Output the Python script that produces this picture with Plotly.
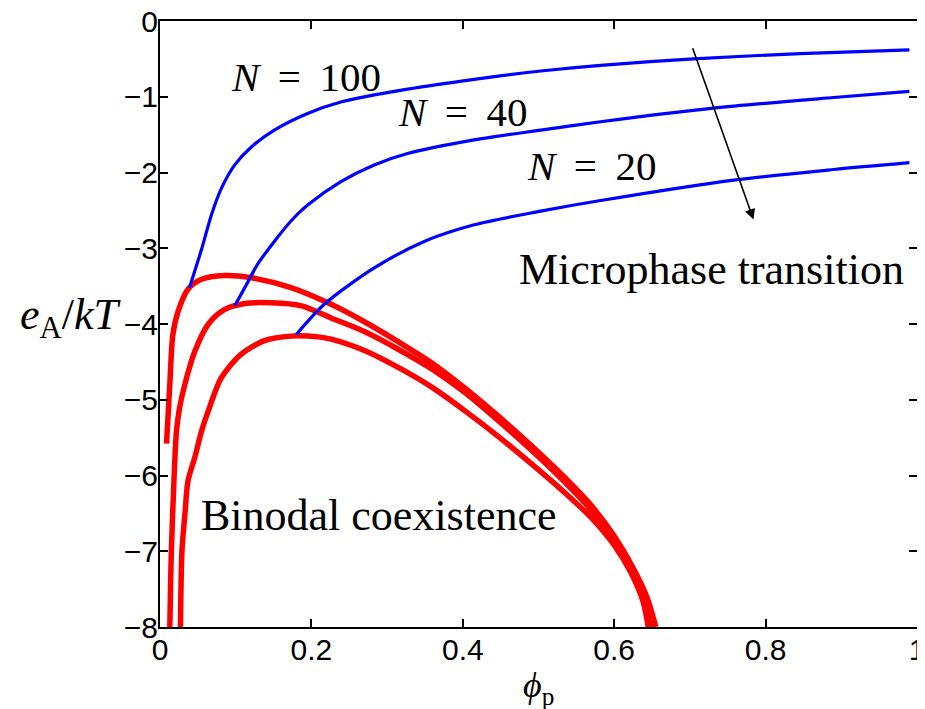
import plotly.graph_objects as go

# Microphase transition lines (blue)
blue100_x = [0.0389, 0.0547, 0.0679, 0.0811, 0.0987, 0.121, 0.151, 0.195, 0.239, 0.327, 0.415, 0.503, 0.582, 0.705, 0.846, 0.99]
blue100_y = [-3.52, -3.02, -2.56, -2.21, -1.90, -1.66, -1.44, -1.22, -1.07, -0.90, -0.77, -0.66, -0.585, -0.50, -0.43, -0.38]

blue40_x = [0.0987, 0.112, 0.129, 0.151, 0.173, 0.195, 0.239, 0.283, 0.327, 0.415, 0.503, 0.582, 0.731, 0.89, 0.99]
blue40_y = [-3.76, -3.52, -3.21, -2.91, -2.64, -2.43, -2.12, -1.90, -1.75, -1.57, -1.44, -1.33, -1.15, -1.01, -0.93]

blue20_x = [0.18, 0.217, 0.283, 0.349, 0.415, 0.503, 0.582, 0.758, 0.89, 0.99]
blue20_y = [-4.14, -3.74, -3.26, -2.91, -2.69, -2.51, -2.37, -2.10, -1.96, -1.87]

# Binodal coexistence lines (red)
red100_x = [0.0086, 0.011, 0.013, 0.017, 0.024, 0.037, 0.055, 0.085, 0.121, 0.173, 0.226, 0.27, 0.314, 0.36, 0.402, 0.445, 0.49, 0.534, 0.57, 0.6, 0.625, 0.643, 0.655]
red100_y = [-5.58, -5.15, -4.79, -4.14, -3.83, -3.54, -3.41, -3.36, -3.39, -3.52, -3.74, -3.97, -4.23, -4.52, -4.84, -5.2, -5.6, -6.02, -6.4, -6.8, -7.22, -7.6, -8.0]

red40_x = [0.013, 0.015, 0.0187, 0.0218, 0.026, 0.033, 0.046, 0.064, 0.085, 0.112, 0.147, 0.187, 0.226, 0.27, 0.314, 0.36, 0.402, 0.445, 0.49, 0.534, 0.57, 0.6, 0.625, 0.64, 0.65]
red40_y = [-8.0, -7.0, -6.0, -5.41, -5.1, -4.79, -4.36, -4.0, -3.81, -3.73, -3.72, -3.76, -3.92, -4.1, -4.33, -4.6, -4.9, -5.26, -5.66, -6.08, -6.46, -6.86, -7.28, -7.62, -8.0]

red20_x = [0.027, 0.029, 0.033, 0.037, 0.046, 0.055, 0.064, 0.081, 0.107, 0.138, 0.173, 0.209, 0.226, 0.27, 0.314, 0.36, 0.402, 0.445, 0.49, 0.534, 0.57, 0.6, 0.622, 0.638, 0.645]
red20_y = [-8.0, -7.0, -6.5, -6.07, -5.76, -5.41, -5.14, -4.71, -4.4, -4.22, -4.16, -4.17, -4.2, -4.35, -4.57, -4.84, -5.14, -5.47, -5.84, -6.22, -6.56, -6.92, -7.28, -7.66, -8.0]

x_ticks = [0, 0.2, 0.4, 0.6, 0.8, 1]
x_tick_labels = ["0", "0.2", "0.4", "0.6", "0.8", "1"]
y_ticks = [0, -1, -2, -3, -4, -5, -6, -7, -8]
y_tick_labels = ["0", "\u22121", "\u22122", "\u22123", "\u22124", "\u22125", "\u22126", "\u22127", "\u22128"]

BLUE = "#0000ff"
RED = "#ff0000"

fig = go.Figure()
for xs, ys in [(red100_x, red100_y), (red40_x, red40_y), (red20_x, red20_y)]:
    fig.add_trace(go.Scatter(x=xs, y=ys, mode="lines", line=dict(color=RED, width=5.5, shape="spline", smoothing=0.8),
                             showlegend=False, hoverinfo="skip"))
for xs, ys in [(blue100_x, blue100_y), (blue40_x, blue40_y), (blue20_x, blue20_y)]:
    fig.add_trace(go.Scatter(x=xs, y=ys, mode="lines", line=dict(color=BLUE, width=3.2, shape="spline", smoothing=0.8),
                             showlegend=False, hoverinfo="skip"))

serif = "Liberation Serif, DejaVu Serif, serif"
txtN = dict(family=serif, size=41, color="black")
txt = dict(family=serif, size=44, color="black")

annotations = [
    dict(x=0.193, y=-0.74, text="<i>N</i>\u2009 = \u2009100", showarrow=False, font=txtN, xanchor="center"),
    dict(x=0.399, y=-1.2, text="<i>N</i>\u2009 = \u200940", showarrow=False, font=txtN, xanchor="center"),
    dict(x=0.57, y=-1.92, text="<i>N</i>\u2009 = \u200920", showarrow=False, font=txtN, xanchor="center"),
    dict(x=0.728, y=-3.28, text="Microphase transition", showarrow=False, font=txt, xanchor="center"),
    dict(x=0.289, y=-6.53, text="Binodal coexistence", showarrow=False, font=txt, xanchor="center"),
    dict(x=0.784, y=-2.62, ax=0.703, ay=-0.34, axref="x", ayref="y", xref="x", yref="y",
         text="", showarrow=True, arrowhead=2, arrowsize=1.3, arrowwidth=1.6, arrowcolor="black"),
    dict(xref="paper", yref="paper", x=-0.118, y=0.51, text="<i>e</i><sub>A</sub>/<i>kT</i>",
         showarrow=False, xanchor="center", yanchor="middle", font=dict(family=serif, size=44, color="black")),
    dict(xref="paper", yref="paper", x=0.5, y=-0.1, text="<i>\u03d5</i><sub>p</sub>",
         showarrow=False, xanchor="center", yanchor="middle", font=dict(family=serif, size=36, color="black")),
]

axis_common = dict(showgrid=False, zeroline=False, showline=True, linecolor="black", linewidth=2,
                   mirror="ticks", ticks="inside", ticklen=8, tickwidth=1.5, tickcolor="black",
                   automargin=False, ticklabeloverflow="allow",
                   tickfont=dict(family="Liberation Sans, Arial, sans-serif", size=30, color="black"))

fig.update_layout(
    width=917, height=701,
    margin=dict(l=152, r=8, t=13, b=82),
    paper_bgcolor="white", plot_bgcolor="white",
    xaxis=dict(range=[0, 1], tickvals=x_ticks, ticktext=x_tick_labels, ticklabelstandoff=-5, **axis_common),
    yaxis=dict(range=[-8, 0], tickvals=y_ticks, ticktext=y_tick_labels, ticklabelstandoff=-6, **axis_common),
    annotations=annotations,
)

fig.write_html("out.html")
